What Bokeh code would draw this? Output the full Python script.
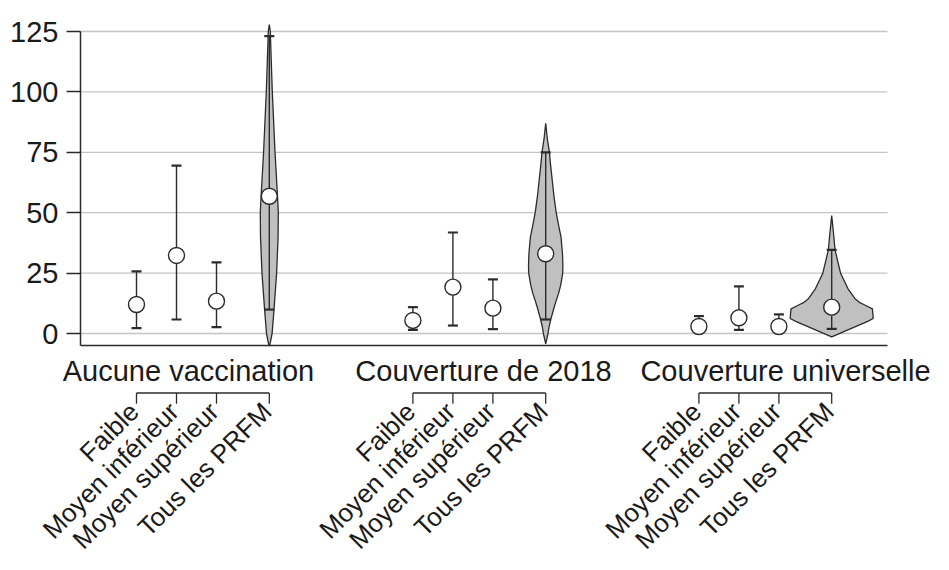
import math
from bokeh.plotting import figure
from bokeh.models import Range1d, FixedTicker
from bokeh.embed import file_html
from bokeh.resources import INLINE
from bokeh.core.properties import value

# ---------------- data ----------------
groups = ["Aucune vaccination", "Couverture de 2018", "Couverture universelle"]
subcats = ["Faible", "Moyen inférieur", "Moyen supérieur", "Tous les PRFM"]

mid_g1 = [12.0, 32.3, 13.4, 56.8]
mid_g2 = [5.4, 19.2, 10.5, 33.0]
mid_g3 = [2.9, 6.5, 2.9, 10.9]

upper_g1 = [25.7, 69.5, 29.4, 123.1]
upper_g2 = [10.9, 41.8, 22.4, 75.0]
upper_g3 = [7.2, 19.5, 7.9, 34.6]

lower_g1 = [2.2, 5.8, 2.6, 9.9]
lower_g2 = [1.5, 3.3, 1.8, 5.8]
lower_g3 = [1.0, 1.5, 1.0, 1.9]

# violin profiles for "Tous les PRFM" (value levels, half-width in category units)
violin_levels_g1 = [127.9, 125, 100, 75, 56, 50, 40, 25, 10, 0, -4.97]
violin_width_g1 = [0, 0.025, 0.075, 0.143, 0.208, 0.225, 0.22, 0.183, 0.118, 0.07, 0.01]
violin_levels_g2 = [87, 81, 75, 70, 64.7, 57, 50, 45, 39.9, 33, 28, 25, 20, 16.5, 13, 9.5, 6, 2.6, 0, -4.3]
violin_width_g2 = [0, 0.038, 0.093, 0.12, 0.155, 0.205, 0.263, 0.32, 0.383, 0.42, 0.43, 0.425,
                   0.375, 0.32, 0.25, 0.188, 0.13, 0.083, 0.058, 0]
violin_levels_g3 = [48.8, 41.9, 34.6, 24.8, 18.5, 14.4, 13.0, 11.6, 10.2, 6.2, 5.0, -1.4]
violin_width_g3 = [0, 0.043, 0.083, 0.225, 0.408, 0.583, 0.683, 0.85, 1.018, 1.038, 0.9, 0]

y_ticks = [0, 25, 50, 75, 100, 125]

mids = [mid_g1, mid_g2, mid_g3]
uppers = [upper_g1, upper_g2, upper_g3]
lowers = [lower_g1, lower_g2, lower_g3]
violin_levels = [violin_levels_g1, violin_levels_g2, violin_levels_g3]
violin_widths = [violin_width_g1, violin_width_g2, violin_width_g3]

# ---------------- layout ----------------
W, H = 933, 554
AXIS_X_PX = 80          # y-axis position on canvas
ZERO_Y_PX = 333         # value 0 on canvas
PX_PER_UNIT = 40.0      # x scale
PX_PER_VAL = 302 / 125  # y scale
FRAME_RIGHT_PX = 887
Y_MIN, Y_MAX_AXIS = -4.97, 125

x_end = (FRAME_RIGHT_PX - AXIS_X_PX) / PX_PER_UNIT

group_base = [1.4, 8.31, 15.46]
sub_offset = [0, 1, 2, 3.32]
label_center = [2.7, 10.075, 17.625]

# label area, in px below value 0
def px_below(ypx):
    return (ZERO_Y_PX - ypx) / PX_PER_VAL

BRACKET_Y = px_below(392.5)
TICK_Y = px_below(403.3)
GLABEL_Y = px_below(370.5)
SLABEL_Y = px_below(396)

FONT = "Liberation Sans"
FS = "29px"
FS_SUB = "26px"
TXT = "#1a1a1a"
DARK = "#2b2b2b"

p = figure(width=W, height=H, output_backend="svg", toolbar_location=None,
           x_range=Range1d(-AXIS_X_PX / PX_PER_UNIT, (W - AXIS_X_PX) / PX_PER_UNIT),
           y_range=Range1d(-(H - ZERO_Y_PX) / PX_PER_VAL, ZERO_Y_PX / PX_PER_VAL),
           min_border=0, min_border_left=0, min_border_right=0,
           min_border_top=0, min_border_bottom=0)
p.outline_line_color = None
p.grid.visible = False

# y axis (library axis, fixed at the frame's left edge)
yax = p.yaxis[0]
yax.fixed_location = 0
yax.ticker = FixedTicker(ticks=y_ticks)
yax.bounds = (Y_MIN, Y_MAX_AXIS)
yax.axis_line_color = DARK
yax.axis_line_width = 1.5
yax.major_tick_line_color = DARK
yax.major_tick_line_width = 1.3
yax.major_tick_out = 14
yax.major_tick_in = 0
yax.minor_tick_line_color = None
yax.major_label_standoff = 8
yax.major_label_text_font = FONT
yax.major_label_text_font_size = FS
yax.major_label_text_color = TXT

# x axis line only
xax = p.xaxis[0]
xax.fixed_location = Y_MIN
xax.ticker = FixedTicker(ticks=[])
xax.bounds = (0, x_end)
xax.axis_line_color = DARK
xax.axis_line_width = 1.6
xax.major_tick_line_color = None
xax.minor_tick_line_color = None
xax.major_label_text_font_size = "0px"

# horizontal gridlines spanning the plotting area
p.segment(x0=[0] * len(y_ticks), y0=y_ticks, x1=[x_end] * len(y_ticks), y1=y_ticks,
          line_color="#c4c4c4", line_width=1.3, level="underlay")

xs_all, mid_all, up_all, lo_all = [], [], [], []
for g in range(3):
    for k in range(4):
        xs_all.append(group_base[g] + sub_offset[k])
        mid_all.append(mids[g][k])
        up_all.append(uppers[g][k])
        lo_all.append(lowers[g][k])

# violins
for g in range(3):
    cx = group_base[g] + sub_offset[3]
    lv = violin_levels[g]
    wd = violin_widths[g]
    px = [cx + w for w in wd] + [cx - w for w in reversed(wd)]
    py = list(lv) + list(reversed(lv))
    p.patch(px, py, fill_color="#c0c0c0", line_color=DARK, line_width=1.3)

# whiskers
p.segment(x0=xs_all, y0=lo_all, x1=xs_all, y1=up_all, line_color=DARK, line_width=1.4)
p.scatter(xs_all, up_all, marker="dash", size=10, line_color=DARK, line_width=2.2)
p.scatter(xs_all, lo_all, marker="dash", size=10, line_color=DARK, line_width=2.2)
# central points
p.scatter(xs_all, mid_all, marker="circle", size=16, fill_color="white",
          line_color=DARK, line_width=1.4)

# category labels with brackets
for g in range(3):
    xs = [group_base[g] + o for o in sub_offset]
    p.line([xs[0], xs[-1]], [BRACKET_Y, BRACKET_Y], line_color=DARK, line_width=1.3)
    p.segment(x0=xs, y0=[BRACKET_Y] * 4, x1=xs, y1=[TICK_Y] * 4, line_color=DARK, line_width=1.3)
    p.text(x=[label_center[g]], y=[GLABEL_Y], text=[groups[g]],
           text_font=value(FONT), text_font_size=FS, text_color=TXT,
           text_align="center", text_baseline="middle")
    p.text(x=xs, y=[SLABEL_Y] * 4, text=subcats, angle=math.pi / 4,
           x_offset=-13, text_font=value(FONT), text_font_size=FS_SUB, text_color=TXT,
           text_align="right", text_baseline="top")

open("out.html", "w").write(file_html(p, INLINE))
